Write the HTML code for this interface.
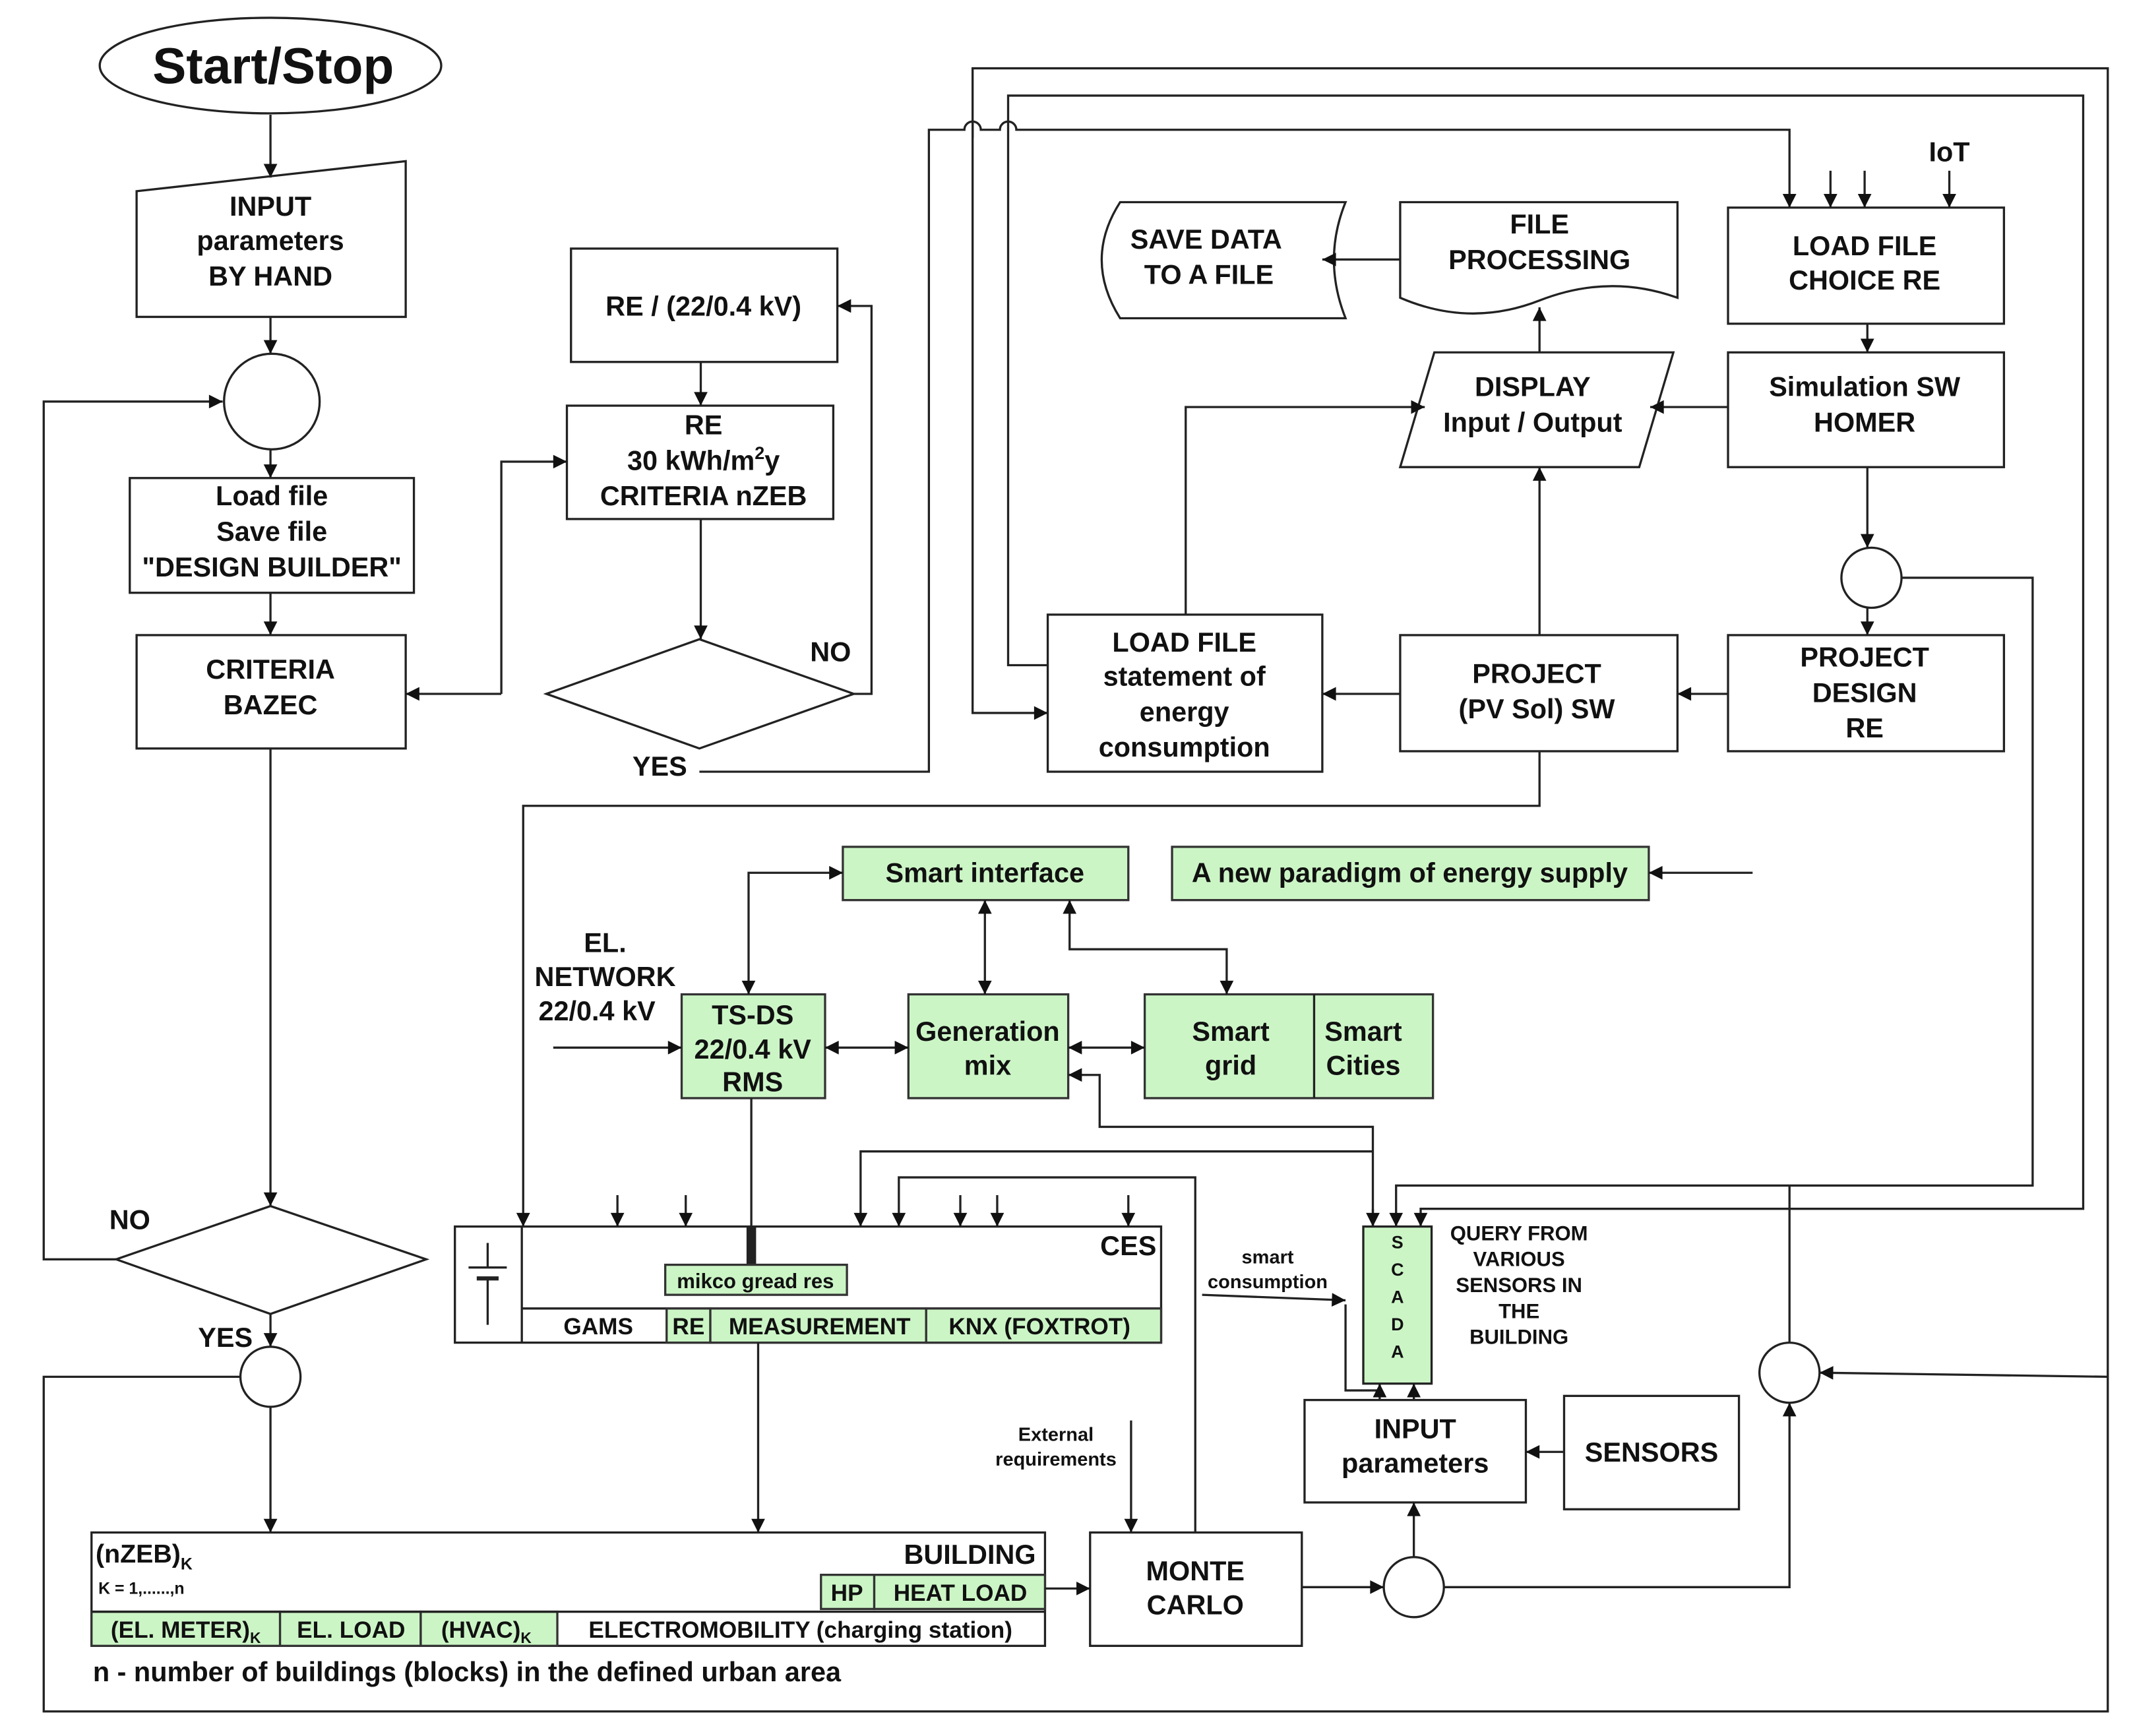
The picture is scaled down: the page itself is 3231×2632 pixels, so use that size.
<!DOCTYPE html>
<html><head><meta charset="utf-8"><style>
html,body{margin:0;padding:0;background:#fff;}
svg{display:block;}
text{font-family:"Liberation Sans",Arial,sans-serif;font-weight:bold;fill:#111;}
</style></head><body>
<svg width="3231" height="2632" viewBox="0 0 1560 1271" preserveAspectRatio="none" xmlns="http://www.w3.org/2000/svg">
<defs>
<marker id="a" viewBox="0 0 10 10" refX="10" refY="5" markerWidth="12" markerHeight="10" markerUnits="userSpaceOnUse" orient="auto"><path d="M0,0 L10,5 L0,10 z" fill="#111"/></marker>
<marker id="s" viewBox="0 0 10 10" refX="0" refY="5" markerWidth="12" markerHeight="10" markerUnits="userSpaceOnUse" orient="auto"><path d="M10,0 L0,5 L10,10 z" fill="#111"/></marker>
</defs>
<rect width="1560" height="1271" fill="#fff"/>
<g fill="none" stroke="#222" stroke-width="1.6">
<ellipse cx="198" cy="48" rx="125" ry="35" fill="#fff"/>
<line x1="198" y1="84" x2="198" y2="130" marker-end="url(#a)"/>
<path d="M100,140 L297,118 L297,232 L100,232 z"/>
<line x1="198" y1="232" x2="198" y2="259" marker-end="url(#a)"/>
<circle cx="199" cy="294" r="35"/>
<line x1="198" y1="329" x2="198" y2="350" marker-end="url(#a)"/>
<rect x="95" y="350" width="208" height="84"/>
<line x1="198" y1="434" x2="198" y2="465" marker-end="url(#a)"/>
<rect x="100" y="465" width="197" height="83"/>
<line x1="198" y1="548" x2="198" y2="883" marker-end="url(#a)"/>
<path d="M85,922 L198,883 L312,922 L198,962 z"/>
<polyline points="85,922 32,922 32,294 163,294" marker-end="url(#a)"/>
<line x1="198" y1="962" x2="198" y2="986" marker-end="url(#a)"/>
<circle cx="198" cy="1008" r="22"/>
<line x1="198" y1="1030" x2="198" y2="1122" marker-end="url(#a)"/>
<polyline points="176,1008 32,1008 32,1253 1543,1253 1543,1008 1332,1005" marker-end="url(#a)"/>
<rect x="418" y="182" width="195" height="83"/>
<line x1="513" y1="265" x2="513" y2="297" marker-end="url(#a)"/>
<rect x="415" y="297" width="195" height="83"/>
<line x1="513" y1="380" x2="513" y2="468" marker-end="url(#a)"/>
<path d="M400,508 L512,468 L625,508 L512,548 z"/>
<polyline points="625,508 638,508 638,224 613,224" marker-end="url(#a)"/>
<polyline points="367,508 367,338 415,338" marker-end="url(#a)"/>
<line x1="367" y1="508" x2="297" y2="508" marker-end="url(#a)"/>
<path d="M512,565 L680,565 L680,95 L706,95 A6,6 0 0 1 718,95 L732,95 A6,6 0 0 1 744,95 L1310,95 L1310,152" marker-end="url(#a)"/>
<polyline points="712,101 712,50 1543,50 1543,1008"/>
<polyline points="712,89 712,522 767,522" marker-end="url(#a)"/>
<polyline points="767,487 738,487 738,70 1525,70 1525,885 1040,885 1040,898" marker-end="url(#a)"/>
<path d="M820,148 L985,148 Q968,190 985,233 L820,233 Q793,190 820,148 z"/>
<path d="M1025,148 L1228,148 L1228,218 Q1178,200 1127,220 Q1076,240 1025,218 z"/>
<line x1="1025" y1="190" x2="968" y2="190" marker-end="url(#a)"/>
<rect x="1265" y="152" width="202" height="85"/>
<line x1="1427" y1="125" x2="1427" y2="152" marker-end="url(#a)"/>
<line x1="1340" y1="125" x2="1340" y2="152" marker-end="url(#a)"/>
<line x1="1365" y1="125" x2="1365" y2="152" marker-end="url(#a)"/>
<line x1="1367" y1="237" x2="1367" y2="258" marker-end="url(#a)"/>
<rect x="1265" y="258" width="202" height="84"/>
<path d="M1050,258 L1225,258 L1200,342 L1025,342 z"/>
<line x1="1265" y1="298" x2="1208" y2="298" marker-end="url(#a)"/>
<line x1="1127" y1="258" x2="1127" y2="225" marker-end="url(#a)"/>
<line x1="1367" y1="342" x2="1367" y2="401" marker-end="url(#a)"/>
<circle cx="1370" cy="423" r="22"/>
<polyline points="1392,423 1488,423 1488,868 1022,868 1022,898" marker-end="url(#a)"/>
<line x1="1367" y1="445" x2="1367" y2="465" marker-end="url(#a)"/>
<rect x="1265" y="465" width="202" height="85"/>
<line x1="1265" y1="508" x2="1228" y2="508" marker-end="url(#a)"/>
<rect x="1025" y="465" width="203" height="85"/>
<line x1="1127" y1="465" x2="1127" y2="342" marker-end="url(#a)"/>
<line x1="1025" y1="508" x2="968" y2="508" marker-end="url(#a)"/>
<rect x="767" y="450" width="201" height="115"/>
<polyline points="868,450 868,298 1043,298" marker-end="url(#a)"/>
<polyline points="1127,550 1127,590 383,590 383,898" marker-end="url(#a)"/>
<g fill="#ccf5c6" stroke="#333">
<rect x="617" y="620" width="209" height="39"/>
<rect x="858" y="620" width="349" height="39"/>
<rect x="665" y="728" width="117" height="76"/>
<rect x="838" y="728" width="211" height="76"/>
<rect x="499" y="728" width="105" height="76"/>
</g>
<line x1="962" y1="728" x2="962" y2="804"/>
<line x1="1283" y1="639" x2="1207" y2="639" marker-end="url(#a)"/>
<polyline points="548,728 548,639 617,639" marker-start="url(#s)" marker-end="url(#a)"/>
<line x1="721" y1="659" x2="721" y2="728" marker-start="url(#s)" marker-end="url(#a)"/>
<polyline points="783,659 783,695 898,695 898,728" marker-start="url(#s)" marker-end="url(#a)"/>
<line x1="405" y1="767" x2="499" y2="767" marker-end="url(#a)"/>
<line x1="604" y1="767" x2="665" y2="767" marker-start="url(#s)" marker-end="url(#a)"/>
<line x1="782" y1="767" x2="838" y2="767" marker-start="url(#s)" marker-end="url(#a)"/>
<polyline points="1005,898 1005,825 805,825 805,787 782,787" marker-end="url(#a)"/>
<line x1="1005" y1="885" x2="1005" y2="898" marker-end="url(#a)"/>
<line x1="550" y1="804" x2="550" y2="898"/>
<line x1="550" y1="898" x2="550" y2="926" stroke-width="7"/>
<rect x="333" y="898" width="517" height="85"/>
<line x1="382" y1="898" x2="382" y2="983"/>
<line x1="382" y1="958" x2="850" y2="958"/>
<g fill="#ccf5c6" stroke="#333">
<rect x="488" y="958" width="32" height="25"/>
<rect x="520" y="958" width="158" height="25"/>
<rect x="678" y="958" width="172" height="25"/>
<rect x="487" y="926" width="133" height="22"/>
</g>
<line x1="357" y1="910" x2="357" y2="928"/><line x1="343" y1="928" x2="371" y2="928"/>
<line x1="349" y1="936" x2="365" y2="936" stroke-width="3"/><line x1="357" y1="936" x2="357" y2="970"/>
<line x1="452" y1="875" x2="452" y2="898" marker-end="url(#a)"/>
<line x1="502" y1="875" x2="502" y2="898" marker-end="url(#a)"/>
<line x1="703" y1="875" x2="703" y2="898" marker-end="url(#a)"/>
<line x1="730" y1="875" x2="730" y2="898" marker-end="url(#a)"/>
<line x1="826" y1="875" x2="826" y2="898" marker-end="url(#a)"/>
<polyline points="630,898 630,843 1005,843" marker-start="url(#s)"/>
<polyline points="658,898 658,862 875,862 875,1122" marker-start="url(#s)"/>
<line x1="555" y1="983" x2="555" y2="1122" marker-end="url(#a)"/>
<line x1="880" y1="948" x2="985" y2="952" marker-end="url(#a)"/>
<rect x="998" y="898" width="50" height="115" fill="#ccf5c6"/>
<rect x="955" y="1025" width="162" height="75"/>
<polyline points="985,955 985,1018 1010,1018 1010,1013" />
<line x1="1010" y1="1025" x2="1010" y2="1013" marker-end="url(#a)"/>
<line x1="1035" y1="1025" x2="1035" y2="1013" marker-end="url(#a)"/>
<rect x="1145" y="1022" width="128" height="83"/>
<line x1="1145" y1="1063" x2="1117" y2="1063" marker-end="url(#a)"/>
<circle cx="1035" cy="1162" r="22"/>
<line x1="1035" y1="1140" x2="1035" y2="1100" marker-end="url(#a)"/>
<line x1="953" y1="1162" x2="1013" y2="1162" marker-end="url(#a)"/>
<polyline points="1057,1162 1310,1162 1310,1027" marker-end="url(#a)"/>
<circle cx="1310" cy="1005" r="22"/>
<polyline points="1310,983 1310,868"/>
<rect x="798" y="1122" width="155" height="83"/>
<line x1="828" y1="1040" x2="828" y2="1122" marker-end="url(#a)"/>
<rect x="67" y="1122" width="698" height="83"/>
<g fill="#ccf5c6" stroke="#333">
<rect x="601" y="1153" width="39" height="25"/>
<rect x="640" y="1153" width="125" height="25"/>
<rect x="67" y="1180" width="138" height="25"/>
<rect x="205" y="1180" width="103" height="25"/>
<rect x="308" y="1180" width="100" height="25"/>
</g>
<line x1="67" y1="1180" x2="765" y2="1180"/>
<line x1="765" y1="1163" x2="798" y2="1163" marker-end="url(#a)"/>
</g>
<g font-size="20" text-anchor="middle">
<text x="200" y="61" font-size="37">Start/Stop</text>
<text x="198" y="158">INPUT</text><text x="198" y="183">parameters</text><text x="198" y="209">BY HAND</text>
<text x="199" y="370">Load file</text><text x="199" y="396">Save file</text><text x="199" y="422">"DESIGN BUILDER"</text>
<text x="198" y="497">CRITERIA</text><text x="198" y="523">BAZEC</text>
<text x="95" y="900" text-anchor="middle">NO</text>
<text x="165" y="986">YES</text>
<text x="515" y="231">RE / (22/0.4 kV)</text>
<text x="515" y="318">RE</text><text x="515" y="344">30 kWh/m<tspan font-size="13" dy="-8">2</tspan><tspan dy="8">y</tspan></text><text x="515" y="370">CRITERIA nZEB</text>
<text x="608" y="484">NO</text><text x="483" y="568">YES</text>
<text x="883" y="182">SAVE DATA</text><text x="885" y="208">TO A FILE</text>
<text x="1127" y="171">FILE</text><text x="1127" y="197">PROCESSING</text>
<text x="1427" y="118">IoT</text>
<text x="1365" y="187">LOAD FILE</text><text x="1365" y="212">CHOICE RE</text>
<text x="1365" y="290">Simulation SW</text><text x="1365" y="316">HOMER</text>
<text x="1122" y="290">DISPLAY</text><text x="1122" y="316">Input / Output</text>
<text x="1365" y="488">PROJECT</text><text x="1365" y="514">DESIGN</text><text x="1365" y="540">RE</text>
<text x="1125" y="500">PROJECT</text><text x="1125" y="526">(PV Sol) SW</text>
<text x="867" y="477">LOAD FILE</text><text x="867" y="502">statement of</text><text x="867" y="528">energy</text><text x="867" y="554">consumption</text>
<text x="721" y="646">Smart interface</text>
<text x="1032" y="646">A new paradigm of energy supply</text>
<text x="443" y="697">EL.</text><text x="443" y="722">NETWORK</text><text x="437" y="747">22/0.4 kV</text>
<text x="551" y="750">TS-DS</text><text x="551" y="775">22/0.4 kV</text><text x="551" y="799">RMS</text>
<text x="723" y="762">Generation</text><text x="723" y="787">mix</text>
<text x="901" y="762">Smart</text><text x="901" y="787">grid</text>
<text x="998" y="762">Smart</text><text x="998" y="787">Cities</text>
<text x="826" y="919">CES</text>
<text x="553" y="943" font-size="15">mikco gread res</text>
<text x="438" y="977" font-size="17">GAMS</text>
<text x="504" y="977" font-size="17">RE</text>
<text x="600" y="977" font-size="17">MEASUREMENT</text>
<text x="761" y="977" font-size="17">KNX (FOXTROT)</text>
<text x="928" y="925" font-size="14" font-weight="normal">smart</text>
<text x="928" y="943" font-size="14" font-weight="normal">consumption</text>
<g font-size="13"><text x="1023" y="914">S</text><text x="1023" y="934">C</text><text x="1023" y="954">A</text><text x="1023" y="974">D</text><text x="1023" y="994">A</text></g>
<g font-size="15"><text x="1112" y="908">QUERY FROM</text><text x="1112" y="927">VARIOUS</text><text x="1112" y="946">SENSORS IN</text><text x="1112" y="965">THE</text><text x="1112" y="984">BUILDING</text></g>
<text x="1036" y="1053">INPUT</text><text x="1036" y="1078">parameters</text>
<text x="1209" y="1070">SENSORS</text>
<text x="773" y="1055" font-size="14" font-weight="normal">External</text><text x="773" y="1073" font-size="14" font-weight="normal">requirements</text>
<text x="875" y="1157">MONTE</text><text x="875" y="1182">CARLO</text>
<text x="710" y="1145">BUILDING</text>
<text x="620" y="1172" font-size="17">HP</text>
<text x="703" y="1172" font-size="17">HEAT LOAD</text>
<text x="136" y="1199" font-size="17">(EL. METER)<tspan font-size="11" dy="4">K</tspan></text>
<text x="257" y="1199" font-size="17">EL. LOAD</text>
<text x="356" y="1199" font-size="17">(HVAC)<tspan font-size="11" dy="4">K</tspan></text>
<text x="586" y="1199" font-size="17">ELECTROMOBILITY (charging station)</text>
</g>
<text x="70" y="1144" font-size="19">(nZEB)<tspan font-size="12" dy="5">K</tspan></text>
<text x="72" y="1167" font-size="12">K = 1,......,n</text>
<text x="68" y="1231" font-size="20">n - number of buildings (blocks) in the defined urban area</text>
</svg>
</body></html>
